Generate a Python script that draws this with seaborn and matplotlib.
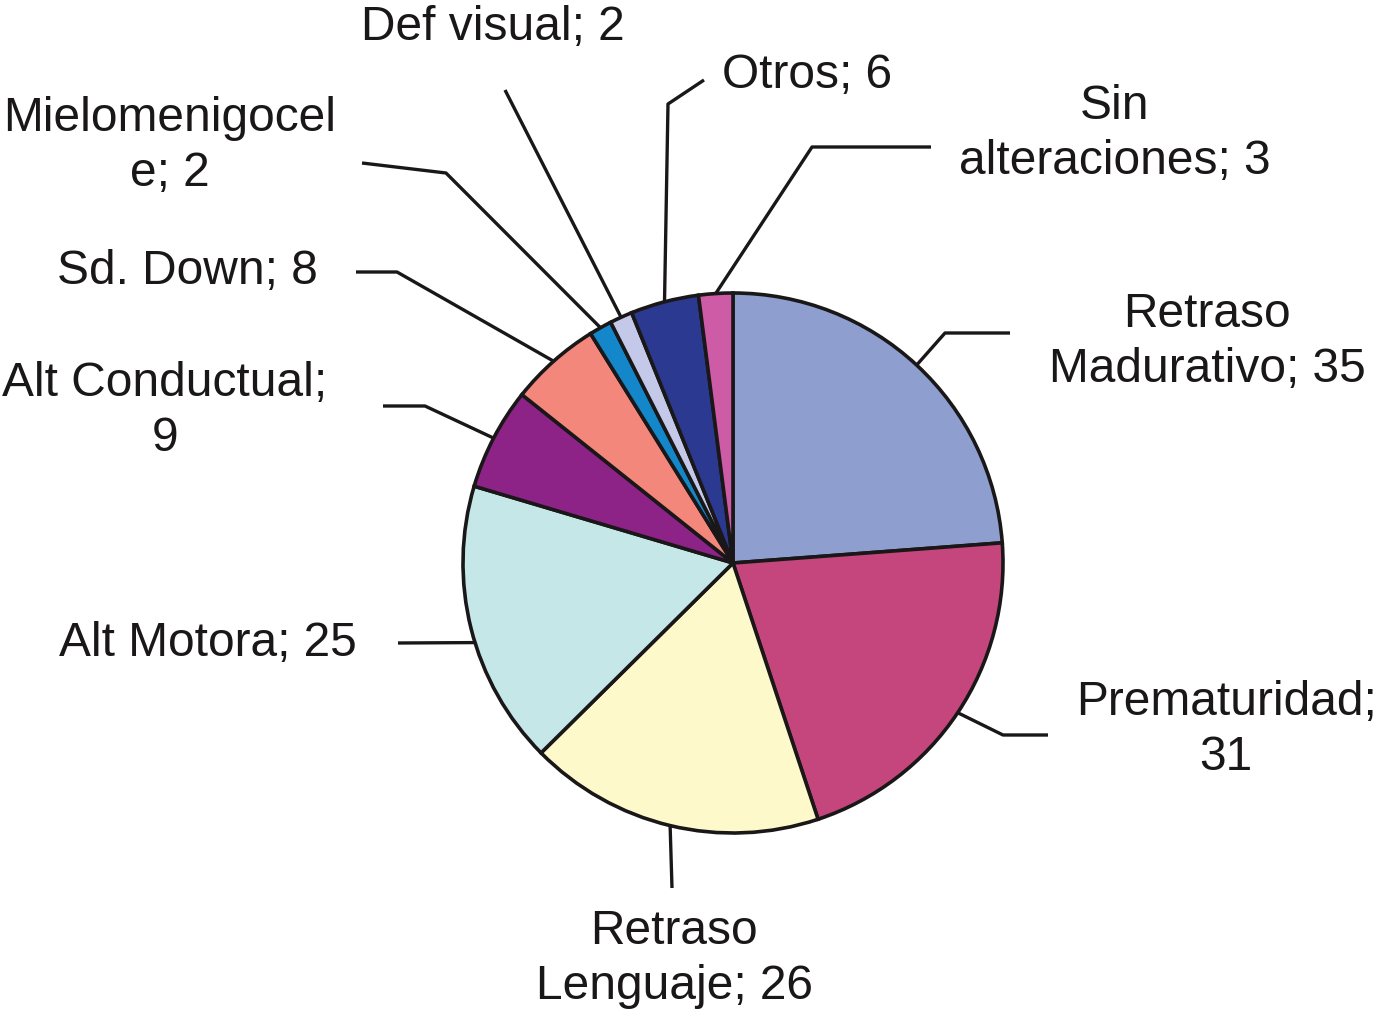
import numpy as np
import matplotlib
matplotlib.use("Agg")
import matplotlib.pyplot as plt
import seaborn as sns

# ---- data ----
categories = ["Retraso Madurativo", "Prematuridad", "Retraso Lenguaje", "Alt Motora",
              "Alt Conductual", "Sd. Down", "Mielomenigocele", "Def visual", "Otros",
              "Sin alteraciones"]
values = [35, 31, 26, 25, 9, 8, 2, 2, 6, 3]
label_texts = ["Retraso\nMadurativo; 35", "Prematuridad;\n31", "Retraso\nLenguaje; 26",
               "Alt Motora; 25", "Alt Conductual;\n9", "Sd. Down; 8", "Mielomenigocel\ne; 2",
               "Def visual; 2", "Otros; 6", "Sin\nalteraciones; 3"]
colors = ["#8E9FCF", "#C4467C", "#FEF9CB", "#C6E7E8", "#8D2387", "#F3877C",
          "#1387C9", "#C5C9E9", "#2B3990", "#CE5BA5"]

# ---- layout (pixel positions in a 1380x1028 canvas) ----
W, H = 1380, 1028
CX, CY, R = 733, 563, 270
# text anchor (x, y), horizontal alignment
text_pos = [(1207, 342, "center"), (1226, 730, "center"), (674, 959, "center"),
            (357, 643, "right"), (165, 411, "center"), (318, 271, "right"),
            (170, 146, "center"), (493, 27, "center"), (722, 75, "left"),
            (1115, 134, "center")]
# leader path points from label side toward the pie
leader_paths = [[(1010, 333), (945, 333)], [(1048, 735), (1003, 735)], [(672, 888)],
                [(398, 643)], [(383, 406), (425, 406)], [(356, 272), (397, 272)],
                [(362, 163), (446, 173)], [(505, 90)], [(704, 80), (668, 104)],
                [(931, 147), (812, 147)]]
anchor_frac = [0.5, 0.5, 0.5, 0.55, 0.5, 0.5, 0.5, 0.5, 0.5, 0.5]


def px(x, y):
    return (x - CX) / R, (CY - y) / R


sns.set_theme(style="white")
plt.rcParams["font.family"] = ["Liberation Sans", "DejaVu Sans"]

fig = plt.figure(figsize=(W / 100, H / 100), dpi=100)
ax = fig.add_axes([0, 0, 1, 1])

wedges, _ = ax.pie(values, colors=colors, startangle=90, counterclock=False, radius=1.0,
                   wedgeprops=dict(edgecolor="#1A1718", linewidth=2.6))
ax.set_aspect("auto")
ax.set_xlim(-CX / R, (W - CX) / R)
ax.set_ylim(-(H - CY) / R, CY / R)
ax.set_axis_off()

text_color = "#1A1718"
for w, lab, (tx, ty, ha), path, fr in zip(wedges, label_texts, text_pos, leader_paths, anchor_frac):
    t1, t2 = w.theta1, w.theta2
    ang = np.deg2rad(t1 + (t2 - t1) * fr)
    anchor = (np.cos(ang), np.sin(ang))
    pts = [px(*p) for p in path] + [anchor]
    xs, ys = zip(*pts)
    ax.plot(xs, ys, color=text_color, lw=2.4, solid_capstyle="butt", zorder=3)
    x, y = px(tx, ty)
    ax.text(x, y, lab, ha=ha, va="center", fontsize=34.5, color=text_color,
            linespacing=1.3, multialignment="center")

fig.savefig("out.png", dpi=100, facecolor="white")
